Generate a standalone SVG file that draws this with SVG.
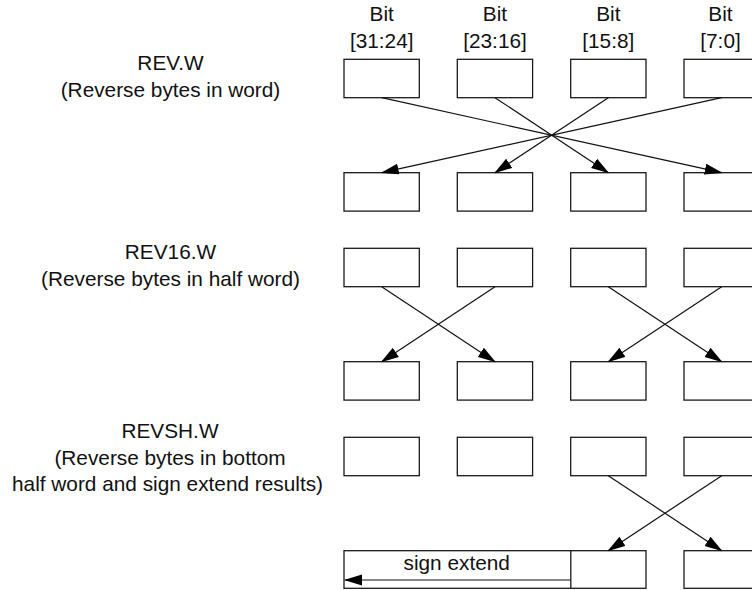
<svg xmlns="http://www.w3.org/2000/svg" width="752" height="590" viewBox="0 0 752 590">
  <style>
    .box { fill: #ffffff; stroke: #1a1a1a; stroke-width: 1.3; }
    .lbl { font-family: "Liberation Sans", Arial, Helvetica, sans-serif; font-size: 20.8px; fill: #111111; text-anchor: middle; }
    .wire { fill: none; stroke: #111111; stroke-width: 1.2; marker-end: url(#arrow); }
  </style>
  <defs>
    <marker id="arrow" markerUnits="userSpaceOnUse" markerWidth="18" markerHeight="12" viewBox="0 0 18 12" refX="17" refY="6" orient="auto">
      <path d="M0,0.5 L18,6 L0,11.5 Z" fill="#000000"/>
    </marker>
  </defs>

  <rect width="752" height="590" fill="#ffffff"/>

  <!-- column headings -->
  <g id="headings">
    <text class="lbl" x="381.7" y="21">Bit</text>
    <text class="lbl" x="381.7" y="47.5">[31:24]</text>
    <text class="lbl" x="495" y="21">Bit</text>
    <text class="lbl" x="495" y="47.5">[23:16]</text>
    <text class="lbl" x="608.3" y="21">Bit</text>
    <text class="lbl" x="608.3" y="47.5">[15:8]</text>
    <text class="lbl" x="720.5" y="21">Bit</text>
    <text class="lbl" x="720.5" y="47.5">[7:0]</text>
  </g>

  <!-- instruction captions -->
  <g id="rev-caption">
    <text class="lbl" x="170.5" y="70">REV.W</text>
    <text class="lbl" x="170.5" y="96.7">(Reverse bytes in word)</text>
  </g>
  <g id="rev16-caption">
    <text class="lbl" x="170.5" y="259">REV16.W</text>
    <text class="lbl" x="170.5" y="285.5">(Reverse bytes in half word)</text>
  </g>
  <g id="revsh-caption">
    <text class="lbl" x="170" y="437.5">REVSH.W</text>
    <text class="lbl" x="170" y="464.5">(Reverse bytes in bottom</text>
    <text class="lbl" x="167.5" y="491.2">half word and sign extend results)</text>
  </g>

  <!-- REV.W bytes -->
  <g id="rev-src">
    <rect class="box" x="344" y="59.3" width="75.3" height="38.4"/>
    <rect class="box" x="457.3" y="59.3" width="75.3" height="38.4"/>
    <rect class="box" x="570.7" y="59.3" width="75.3" height="38.4"/>
    <rect class="box" x="684" y="59.3" width="75.3" height="38.4"/>
  </g>
  <g id="rev-dst">
    <rect class="box" x="344" y="172.7" width="75.3" height="38.4"/>
    <rect class="box" x="457.3" y="172.7" width="75.3" height="38.4"/>
    <rect class="box" x="570.7" y="172.7" width="75.3" height="38.4"/>
    <rect class="box" x="684" y="172.7" width="75.3" height="38.4"/>
  </g>

  <!-- REV16.W bytes -->
  <g id="rev16-src">
    <rect class="box" x="344" y="248.3" width="75.3" height="38.4"/>
    <rect class="box" x="457.3" y="248.3" width="75.3" height="38.4"/>
    <rect class="box" x="570.7" y="248.3" width="75.3" height="38.4"/>
    <rect class="box" x="684" y="248.3" width="75.3" height="38.4"/>
  </g>
  <g id="rev16-dst">
    <rect class="box" x="344" y="361.7" width="75.3" height="38.4"/>
    <rect class="box" x="457.3" y="361.7" width="75.3" height="38.4"/>
    <rect class="box" x="570.7" y="361.7" width="75.3" height="38.4"/>
    <rect class="box" x="684" y="361.7" width="75.3" height="38.4"/>
  </g>

  <!-- REVSH.W bytes -->
  <g id="revsh-src">
    <rect class="box" x="344" y="437.3" width="75.3" height="38.4"/>
    <rect class="box" x="457.3" y="437.3" width="75.3" height="38.4"/>
    <rect class="box" x="570.7" y="437.3" width="75.3" height="38.4"/>
    <rect class="box" x="684" y="437.3" width="75.3" height="38.4"/>
  </g>
  <g id="revsh-dst">
    <rect class="box" x="344" y="550.7" width="302" height="37.6"/>
    <line x1="570.8" y1="550.7" x2="570.8" y2="588.3" stroke="#1a1a1a" stroke-width="1.3"/>
    <rect class="box" x="684" y="550.7" width="75.3" height="37.6"/>
    <text class="lbl" x="456.7" y="570">sign extend</text>
  </g>

  <!-- byte moves -->
  <g id="connectors">
    <line class="wire" x1="381.7" y1="97.7" x2="721.7" y2="172.7"/>
    <line class="wire" x1="495" y1="97.7" x2="608.3" y2="172.7"/>
    <line class="wire" x1="608.3" y1="97.7" x2="495" y2="172.7"/>
    <line class="wire" x1="721.7" y1="97.7" x2="381.7" y2="172.7"/>

    <line class="wire" x1="381.7" y1="286.7" x2="495" y2="361.7"/>
    <line class="wire" x1="495" y1="286.7" x2="381.7" y2="361.7"/>
    <line class="wire" x1="608.3" y1="286.7" x2="721.7" y2="361.7"/>
    <line class="wire" x1="721.7" y1="286.7" x2="608.3" y2="361.7"/>

    <line class="wire" x1="608.3" y1="475.7" x2="721.7" y2="550.7"/>
    <line class="wire" x1="721.7" y1="475.7" x2="608.3" y2="550.7"/>

    <line class="wire" x1="570.8" y1="580" x2="345" y2="580"/>
  </g>
</svg>
